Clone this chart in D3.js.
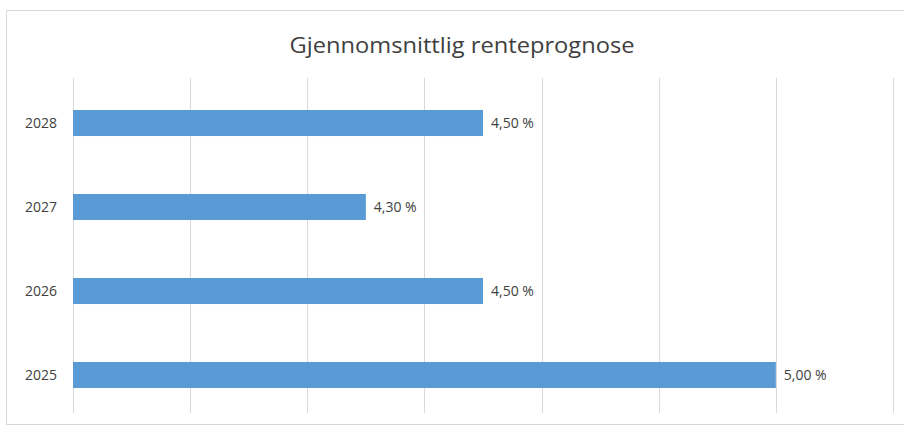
<!DOCTYPE html>
<html>
<head>
<meta charset="utf-8">
<script src="https://cdn.jsdelivr.net/npm/d3@7"></script>
<style>
  html, body { margin: 0; padding: 0; background: #fff; }
  svg { display: block; }
</style>
</head>
<body>
<div id="chart"></div>
<script>
// Average interest-rate forecast per year
const years = ["2025", "2026", "2027", "2028"];
const rates = [5.00, 4.50, 4.30, 4.50];
const gridTicks = [3.8, 4.0, 4.2, 4.4, 4.6, 4.8, 5.0, 5.2];
const chartTitle = "Gjennomsnittlig renteprognose";

const width = 904, height = 435;
const svg = d3.select("#chart").append("svg")
  .attr("width", width).attr("height", height);

// chart frame
svg.append("rect")
  .attr("x", 6.5).attr("y", 10.5)
  .attr("width", width + 10).attr("height", 414)
  .attr("fill", "#fff").attr("stroke", "#d9d9d9");

const x = d3.scaleLinear().domain([3.8, 5.2]).range([73, 893]);
const y = d3.scaleBand().domain(years.slice().reverse()).range([81, 417]).paddingInner(0.69).paddingOuter(0.345);

// vertical gridlines
svg.append("g").selectAll("line").data(gridTicks).join("line")
  .attr("x1", d => Math.round(x(d)) + 0.5).attr("x2", d => Math.round(x(d)) + 0.5)
  .attr("y1", 78).attr("y2", 413)
  .attr("stroke", "#d9d9d9").attr("stroke-width", 1);

// title
svg.append("text")
  .attr("x", 462).attr("y", 53)
  .attr("text-anchor", "middle")
  .attr("font-family", "Open Sans, sans-serif")
  .attr("font-size", 22)
  .attr("textLength", 345)
  .attr("lengthAdjust", "spacingAndGlyphs")
  .attr("fill", "#404040")
  .text(chartTitle);

const data = years.map((yr, i) => ({ year: yr, rate: rates[i] }));

// bars
svg.append("g").selectAll("rect").data(data).join("rect")
  .attr("x", x(3.8))
  .attr("y", d => y(d.year))
  .attr("width", d => x(d.rate) - x(3.8))
  .attr("height", y.bandwidth())
  .attr("fill", "#5b9bd5");

// category labels
svg.append("g").selectAll("text").data(data).join("text")
  .attr("x", 57)
  .attr("y", d => y(d.year) + y.bandwidth() / 2)
  .attr("dy", "0.35em")
  .attr("text-anchor", "end")
  .attr("font-family", "Open Sans, sans-serif")
  .attr("font-size", 14)
  .attr("fill", "#404040")
  .text(d => d.year);

// value labels
const fmt = v => v.toFixed(2).replace(".", ",") + " %";
svg.append("g").selectAll("text").data(data).join("text")
  .attr("x", d => x(d.rate) + 8)
  .attr("y", d => y(d.year) + y.bandwidth() / 2)
  .attr("dy", "0.35em")
  .attr("font-family", "Open Sans, sans-serif")
  .attr("font-size", 14)
  .attr("fill", "#404040")
  .text(d => fmt(d.rate));
</script>
</body>
</html>
